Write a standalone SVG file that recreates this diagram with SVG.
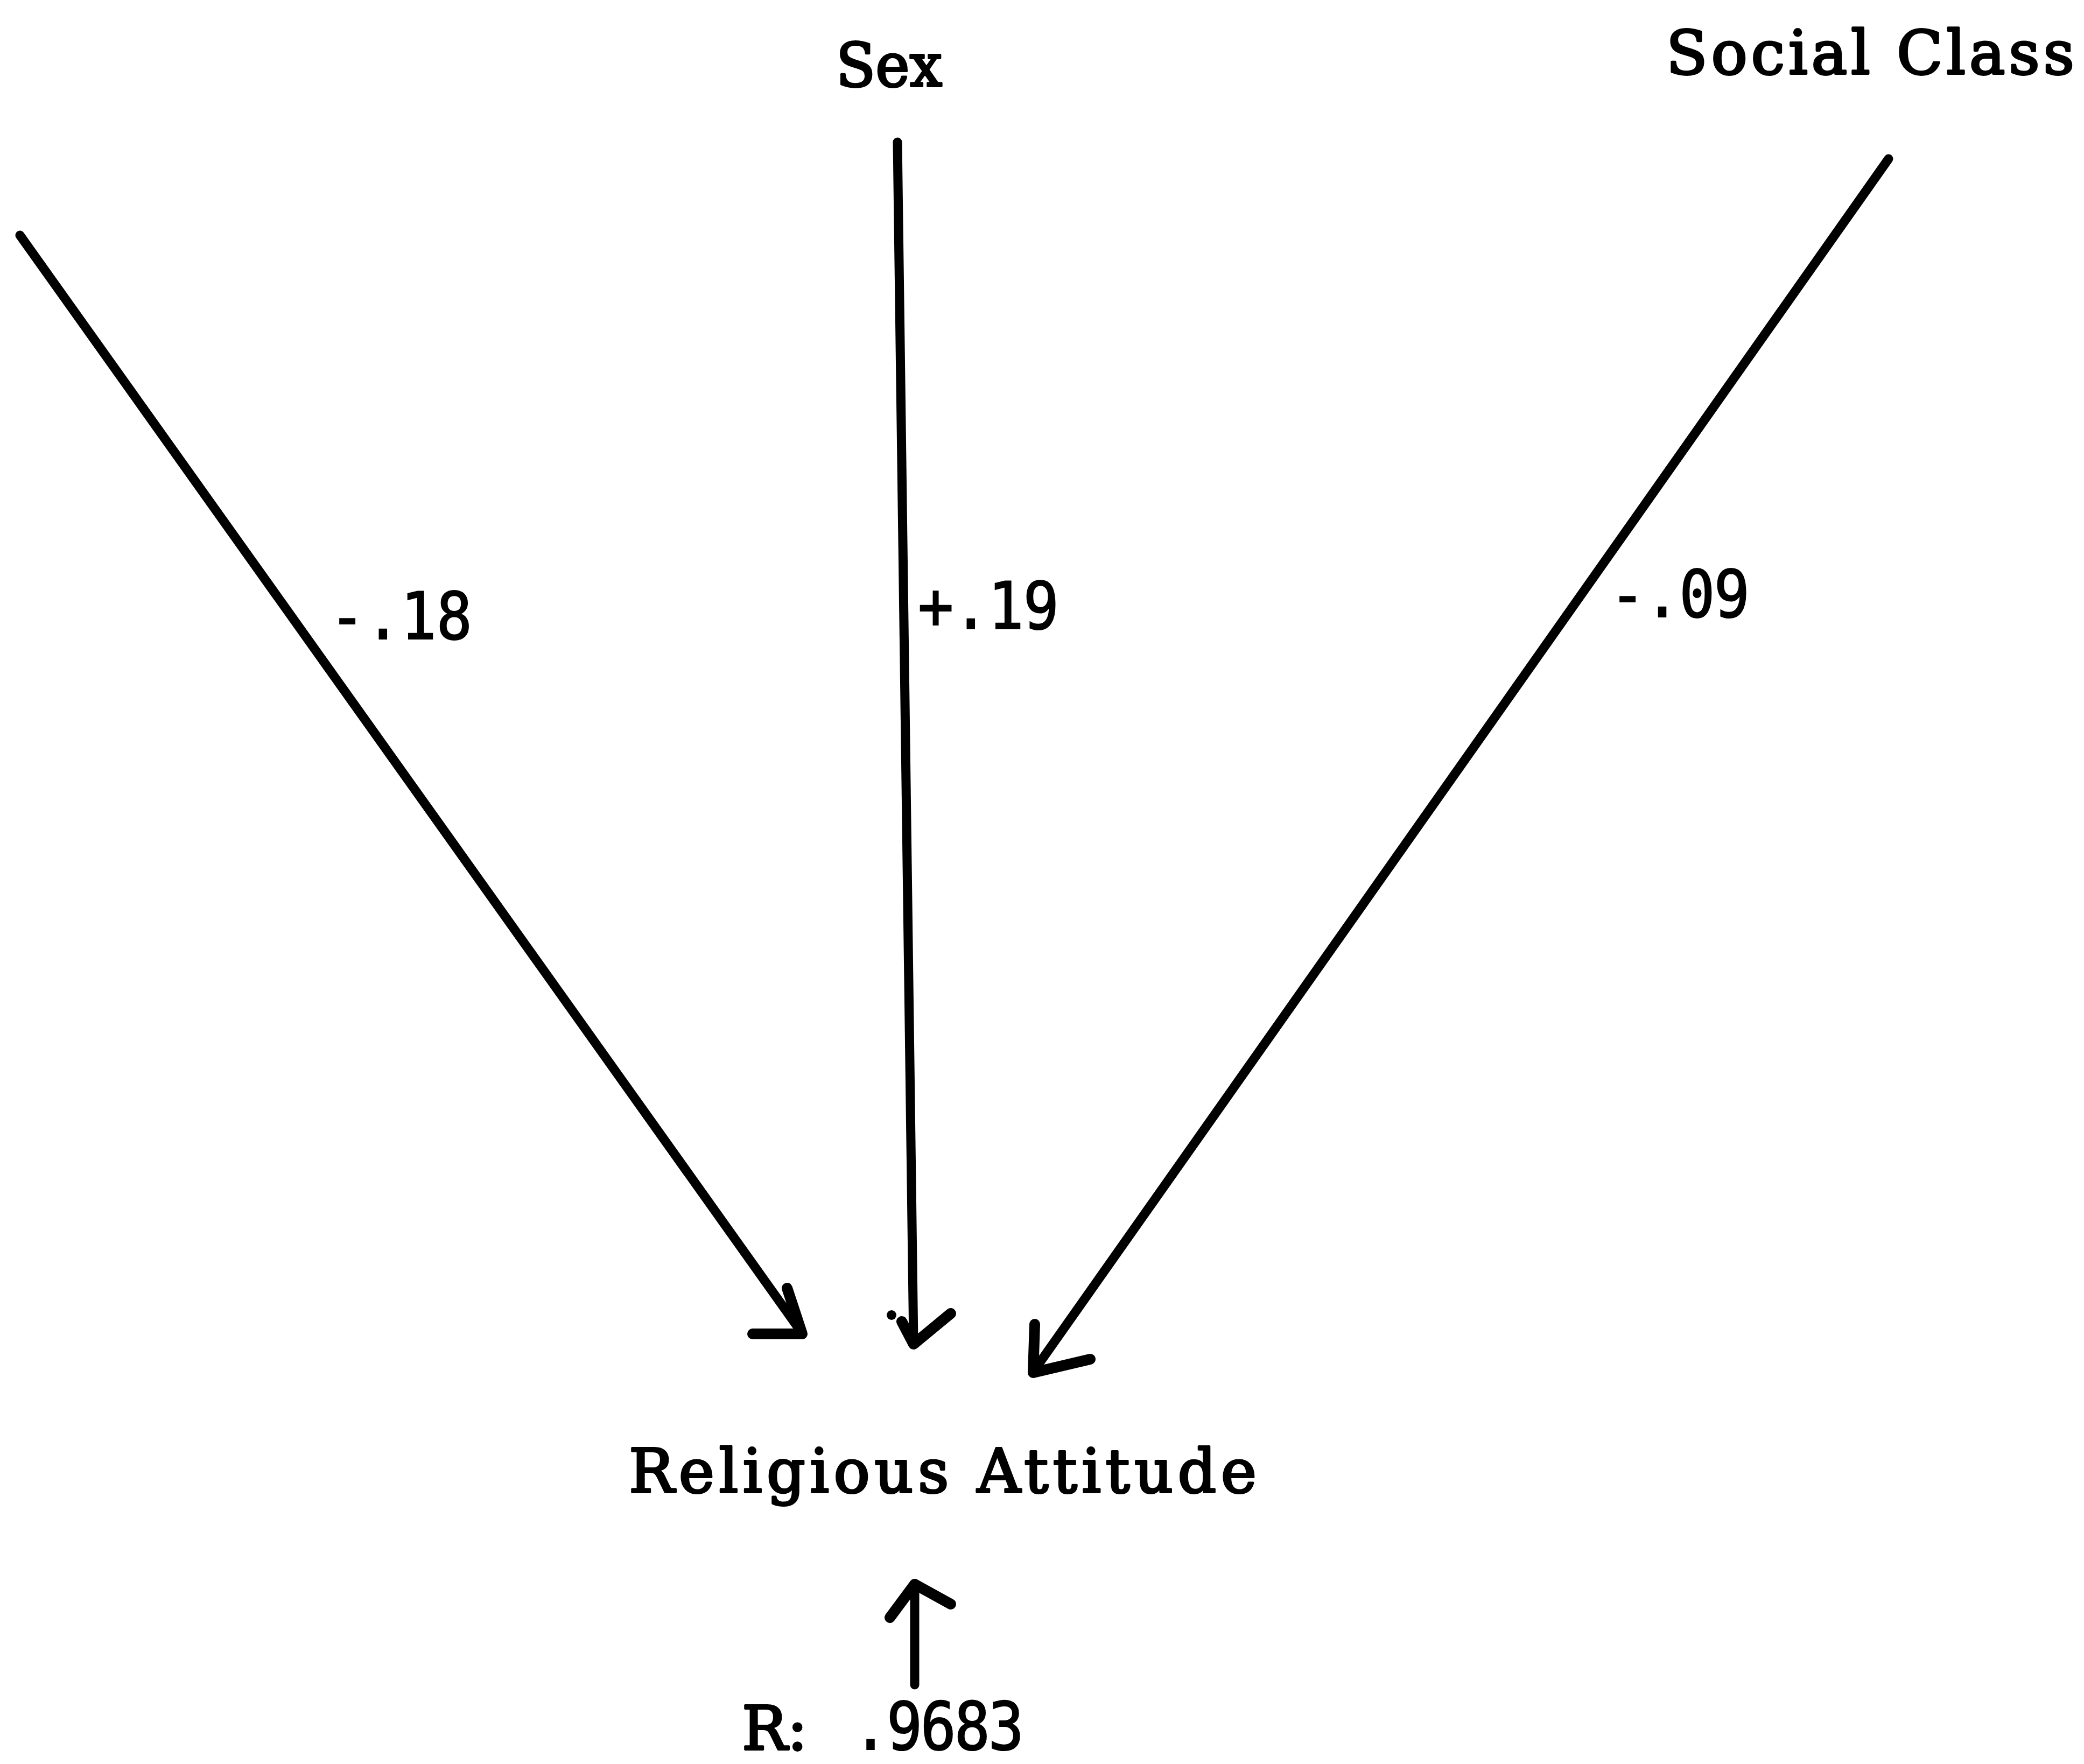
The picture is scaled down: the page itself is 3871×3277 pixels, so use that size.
<svg xmlns="http://www.w3.org/2000/svg" width="3871" height="3277" viewBox="0 0 3871 3277">
<style>
.bg{fill:#ffffff}
.tw{font-family:"DejaVu Serif","Liberation Serif",serif;font-size:112px;fill:#000;stroke:#000;stroke-width:4;stroke-linejoin:round}
.num{font-family:"DejaVu Sans Mono","Liberation Mono",monospace;font-size:110px;fill:#000;stroke:#000;stroke-width:2}
.ln{stroke:#000;stroke-width:17;fill:none;stroke-linecap:round;stroke-linejoin:round}
.hd{stroke:#000;stroke-width:20;fill:none;stroke-linecap:round;stroke-linejoin:round}
</style>
<rect class="bg" x="0" y="0" width="3871" height="3277"/>
<g id="node-sex">
<text class="tw" x="1553" y="160" textLength="197" lengthAdjust="spacingAndGlyphs">Sex</text>
</g>
<g id="node-social-class">
<text class="tw" x="3095" y="137" textLength="758" lengthAdjust="spacing">Social Class</text>
</g>
<g id="node-religious-attitude">
<text class="tw" x="1168" y="2772" textLength="1166" lengthAdjust="spacing">Religious Attitude</text>
</g>
<g id="node-r">
<text class="tw" x="1378" y="3250" textLength="122" lengthAdjust="spacing">R:</text>
<text class="num" transform="translate(1584,3250) scale(1,1.12)" textLength="318" lengthAdjust="spacing">.9683</text>
</g>
<g id="connectors">
<line class="ln" x1="37" y1="437" x2="1488" y2="2474"/>
<polyline class="hd" points="1462,2393 1490,2478 1398,2478"/>
<line class="ln" x1="1667" y1="264" x2="1697" y2="2494"/>
<polyline class="hd" points="1675,2455 1697,2497 1766,2440"/>
<circle cx="1656" cy="2443" r="9" fill="#000"/>
<line class="ln" x1="3508" y1="295" x2="1921" y2="2546"/>
<polyline class="hd" points="1922,2460 1919,2550 2025,2525"/>
<line class="ln" x1="1699" y1="3130" x2="1699" y2="2946"/>
<polyline class="hd" points="1653,3005 1699,2943 1766,2980"/>
<text class="num" transform="translate(612,1187) scale(1,1.1)" textLength="265" lengthAdjust="spacing">-.18</text>
<text class="num" transform="translate(1705,1168) scale(1,1.1)" textLength="262" lengthAdjust="spacing">+.19</text>
<text class="num" transform="translate(2990,1146) scale(1,1.1)" textLength="260" lengthAdjust="spacing">-.09</text>
</g>
</svg>
